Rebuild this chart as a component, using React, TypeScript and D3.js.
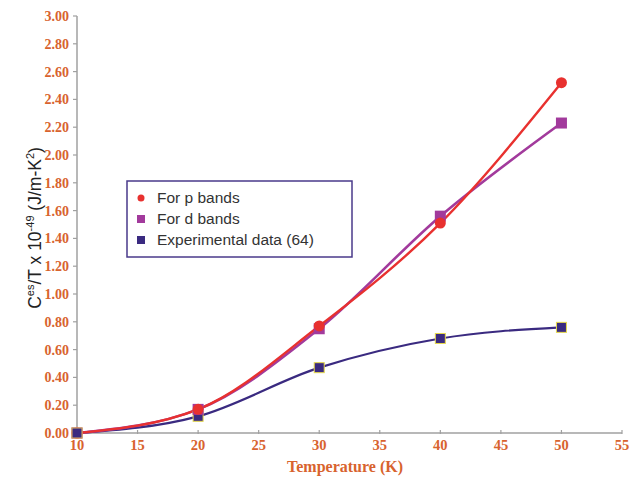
import React from "react";
import * as d3 from "d3";

const temps = [10, 20, 30, 40, 50];
const pBands = [0, 0.17, 0.77, 1.51, 2.52];
const dBands = [0, 0.17, 0.75, 1.56, 2.23];
const expData = [0, 0.12, 0.47, 0.68, 0.76];
const xTicks = [10, 15, 20, 25, 30, 35, 40, 45, 50, 55];
const yTicks = d3.range(0, 3.0001, 0.2);
const legendLabels = ["For p bands", "For d bands", "Experimental data (64)"];

const W = 640, H = 481;
const x0 = 77, x1 = 622, yTop = 16, yBot = 433;
const orange = "#d8632e";
const axisGray = "#a0a0a0";
const cP = "#e8312f", cD = "#a23a9c", cE = "#3a2a80";
const serif = "Liberation Serif, Times New Roman, serif";
const sans = "Liberation Sans, Arial, sans-serif";

export default function App() {
  const x = d3.scaleLinear().domain([10, 55]).range([x0, x1]);
  const y = d3.scaleLinear().domain([0, 3]).range([yBot, yTop]);
  const line = d3.line<[number, number]>().x(d => x(d[0])).y(d => y(d[1])).curve(d3.curveMonotoneX);
  const pts = (vals: number[]) => temps.map((t, i) => [t, vals[i]] as [number, number]);

  return (
    <svg width={W} height={H} style={{ position: "absolute", left: 0, top: 0, background: "#fff" }}>
      <line x1={x0} x2={x0} y1={yTop} y2={yBot} stroke={axisGray} strokeWidth={1.5} />
      <line x1={x0} x2={x1} y1={yBot} y2={yBot} stroke={axisGray} strokeWidth={1.5} />
      {yTicks.map((t, i) => (
        <g key={"y" + i}>
          <line x1={x0 - 4} x2={x0} y1={y(t)} y2={y(t)} stroke={axisGray} strokeWidth={1.2} />
          <text x={x0 - 8} y={y(t)} dy="0.35em" textAnchor="end" fill={orange}
            fontFamily={serif} fontWeight="bold" fontSize={14}>{t.toFixed(2)}</text>
        </g>
      ))}
      {xTicks.map((t, i) => (
        <g key={"x" + i}>
          <line x1={x(t)} x2={x(t)} y1={yBot - 3} y2={yBot + 1} stroke={axisGray} strokeWidth={1.2} />
          <text x={x(t)} y={yBot + 17} textAnchor="middle" fill={orange}
            fontFamily={serif} fontWeight="bold" fontSize={14.5}>{t}</text>
        </g>
      ))}
      <text x={345} y={472} textAnchor="middle" fill={orange}
        fontFamily={serif} fontWeight="bold" fontSize={16}>Temperature (K)</text>
      <text transform="translate(41,228) rotate(-90)" textAnchor="middle" fill="#222"
        fontFamily={sans} fontSize={17.5}>
        C<tspan fontSize={11} dy={-7}>es</tspan><tspan dy={7}>/T x 10</tspan><tspan fontSize={11} dy={-7}>-49</tspan><tspan dy={7}> (J/m-K</tspan><tspan fontSize={11} dy={-7}>2</tspan><tspan dy={7}>)</tspan>
      </text>

      <path d={line(pts(expData)) || ""} fill="none" stroke={cE} strokeWidth={2.2} />
      <path d={line(pts(dBands)) || ""} fill="none" stroke={cD} strokeWidth={2.6} />
      <path d={line(pts(pBands)) || ""} fill="none" stroke={cP} strokeWidth={2.4} />

      {temps.map((t, i) => (
        <rect key={"e" + i} x={x(t) - 5} y={y(expData[i]) - 5} width={10} height={10} fill={cE} stroke="#e6d94c" strokeWidth={1} />
      ))}
      {temps.map((t, i) => (
        <rect key={"d" + i} x={x(t) - 5.5} y={y(dBands[i]) - 5.5} width={11} height={11} fill={cD} />
      ))}
      {temps.map((t, i) => (
        <circle key={"p" + i} cx={x(t)} cy={y(pBands[i])} r={5.5} fill={cP} />
      ))}
      <rect x={x(10) - 5} y={y(0) - 5} width={10} height={10} fill={cE} stroke="#d8b060" strokeWidth={1} />

      <rect x={127} y={181} width={225} height={76} fill="#fff" stroke="#4a3a8a" strokeWidth={1.5} />
      <circle cx={141} cy={198} r={3.5} fill={cP} />
      <rect x={137} y={215} width={8} height={8} fill={cD} />
      <rect x={137} y={236} width={8} height={8} fill={cE} />
      {legendLabels.map((l, i) => (
        <text key={l} x={157} y={198 + i * 21} dy="0.35em" fill="#333"
          fontFamily={sans} fontSize={15.5}>{l}</text>
      ))}
    </svg>
  );
}
